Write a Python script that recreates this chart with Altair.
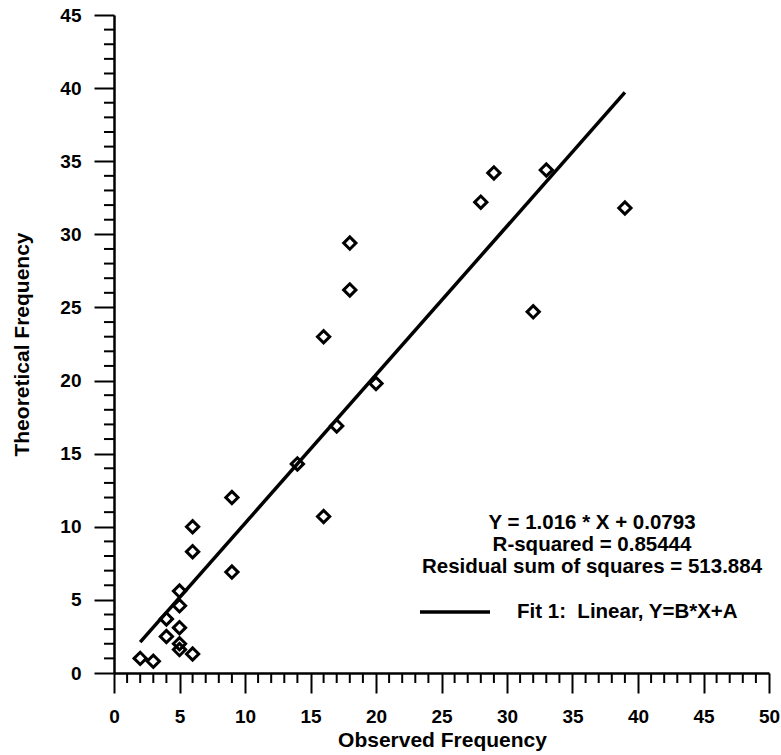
import altair as alt
import pandas as pd

# Observed vs theoretical frequencies
observed = [2, 3, 4, 4, 5, 5, 5, 5, 5, 6, 6, 6, 9, 9, 14, 16, 16, 17, 18, 18, 20, 28, 29, 32, 33, 39]
theoretical = [1.0, 0.8, 3.7, 2.5, 5.6, 4.6, 3.1, 2.0, 1.6, 1.3, 10.0, 8.3, 6.9, 12.0, 14.3,
               10.7, 23.0, 16.9, 29.4, 26.2, 19.8, 32.2, 34.2, 24.7, 34.4, 31.8]

# Linear fit coefficients
slope = 1.016
intercept = 0.0793

fit_lines = [
    "Y = 1.016 * X + 0.0793",
    "R-squared = 0.85444",
    "Residual sum of squares = 513.884",
]
legend_label = "Fit 1:\u00a0 Linear, Y=B*X+A"

# labelled ticks every 5 units, short unlabelled ticks at every other unit
x_major = list(range(0, 51, 5))
y_major = list(range(0, 46, 5))
x_minor = [v for v in range(0, 51) if v % 5]
y_minor = [v for v in range(0, 46) if v % 5]

FONT = "Liberation Sans"
W, H = 655, 658
MINOR_LEN = 10

fit_x = [min(observed), max(observed)]
data = pd.concat([
    pd.DataFrame({"obs": observed, "theo": theoretical, "kind": "point"}),
    pd.DataFrame({"obs": fit_x, "theo": [slope * v + intercept for v in fit_x], "kind": "fit"}),
], ignore_index=True)

xscale = alt.Scale(domain=[0, 50], nice=False, zero=False)
yscale = alt.Scale(domain=[0, 45], nice=False, zero=False)

axis_common = dict(
    grid=False, domainColor="black", domainWidth=2.5, tickColor="black", tickWidth=2,
    tickSize=20, labelOverlap=False, labelFlush=False,
    labelFont=FONT, labelFontWeight="bold", labelFontSize=19, labelColor="black",
    titleFont=FONT, titleFontWeight="bold", titleFontSize=21, titleColor="black",
)

x_axis = alt.Axis(orient="bottom", values=x_major, labelPadding=14,
                  title="Observed Frequency", titleX=328, titleY=67,
                  titleBaseline="middle", titleAlign="center", **axis_common)
y_axis = alt.Axis(orient="left", values=y_major, labelPadding=13,
                  title="Theoretical Frequency", titleX=-92, titleY=329, titleAngle=-90,
                  titleBaseline="middle", titleAlign="center", **axis_common)

base = alt.Chart(data).encode(
    x=alt.X("obs:Q", scale=xscale, axis=x_axis),
    y=alt.Y("theo:Q", scale=yscale, axis=y_axis),
)

scatter = base.mark_point(
    shape="diamond", size=150, filled=False, color="black", strokeWidth=3, opacity=1
).transform_filter("datum.kind === 'point'")

fit_line = base.mark_line(color="black", strokeWidth=3.5).transform_filter(
    "datum.kind === 'fit'"
)

# short ticks between the labelled ones
x_minor_ticks = alt.Chart(pd.DataFrame({"obs": x_minor})).mark_rule(
    color="black", strokeWidth=2
).encode(
    x=alt.X("obs:Q", scale=xscale),
    y=alt.value(H), y2=alt.value(H + MINOR_LEN),
)
y_minor_ticks = alt.Chart(pd.DataFrame({"theo": y_minor})).mark_rule(
    color="black", strokeWidth=2
).encode(
    y=alt.Y("theo:Q", scale=yscale),
    x=alt.value(-MINOR_LEN), x2=alt.value(0),
)

text_layers = []
for i, line in enumerate(fit_lines):
    text_layers.append(
        alt.Chart(pd.DataFrame({"t": [line]})).mark_text(
            font=FONT, fontWeight="bold", fontSize=20.5, color="black",
            align="center", baseline="middle"
        ).encode(x=alt.value(478), y=alt.value(508 + 22 * i), text="t:N")
    )

legend_rule = alt.Chart(pd.DataFrame({"t": [legend_label]})).mark_rule(
    color="black", strokeWidth=3.5
).encode(x=alt.value(306), x2=alt.value(376), y=alt.value(597))

legend_text = alt.Chart(pd.DataFrame({"t": [legend_label]})).mark_text(
    font=FONT, fontWeight="bold", fontSize=20.5, color="black",
    align="left", baseline="middle"
).encode(x=alt.value(403), y=alt.value(597), text="t:N")

chart = alt.layer(
    x_minor_ticks, y_minor_ticks, scatter, fit_line, *text_layers, legend_rule, legend_text
).properties(
    width=W, height=H,
    autosize=alt.AutoSizeParams(type="none"),
    padding={"left": 114, "top": 15, "right": 12, "bottom": 82},
    background="white",
).configure_view(stroke=None)

chart.save("out.html", embed_options={"renderer": "svg", "actions": False})
